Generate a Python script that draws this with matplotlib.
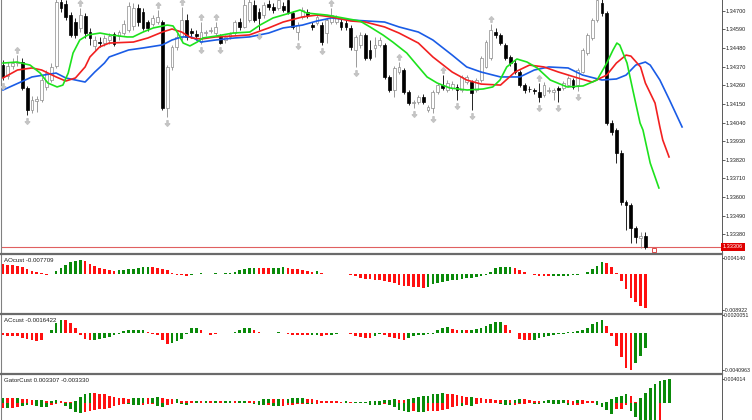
import numpy as np
import matplotlib
matplotlib.use("Agg")
import matplotlib.pyplot as plt
from matplotlib.path import Path
from matplotlib.lines import Line2D
from matplotlib.transforms import blended_transform_factory

plt.rcParams['font.family'] = ['Liberation Sans', 'DejaVu Sans']

# prices are kept as points (1e-5) above BASE
BASE = 1.33
PT = 1e-5

open_pts = [1380,1315,1374,1391,1397,1244,1114,1167,1173,1250,
            1291,1374,1751,1739,1675,1633,1598,1669,1574,1492,
            1515,1509,1527,1562,1551,1568,1586,1610,1716,1692,
            1633,1621,1633,1633,1126,1368,1486,1545,1645,1580,
            1562,1515,1568,1580,1568,1545,1527,1545,1568,1633,
            1604,1645,1734,1692,1675,1739,1722,1716,1728,1763,
            1686,1574,1663,1692,1615,1627,1615,1568,1633,1633,
            1633,1627,1598,1468,1498,1557,1468,1480,1498,1498,
            1309,1232,1338,1350,1220,1155,1161,1191,1114,1126,
            1220,1262,1232,1244,1250,1232,1279,1279,1232,1291,
            1368,1421,1574,1557,1498,1427,1391,1338,1262,1238,
            1232,1220,1203,1226,1220,1244,1244,1262,1291,1262,
            1338,1450,1539,1645,1745,1686,1037,996,860,571,
            553,418,359,371]
high_pts = [1409,1397,1421,1439,1421,1256,1197,1197,1309,1350,
            1391,1793,1787,1763,1692,1657,1716,1686,1598,1551,
            1545,1557,1568,1574,1586,1645,1751,1745,1739,1716,
            1645,1675,1704,1645,1380,1498,1568,1722,1680,1598,
            1586,1633,1586,1604,1633,1562,1557,1574,1645,1657,
            1781,1793,1763,1716,1751,1763,1745,1781,1751,1781,
            1698,1633,1722,1710,1633,1680,1633,1657,1716,1675,
            1651,1645,1615,1557,1574,1568,1527,1545,1545,1509,
            1320,1374,1397,1362,1232,1173,1203,1208,1143,1232,
            1273,1320,1291,1285,1267,1320,1320,1291,1303,1433,
            1527,1621,1598,1568,1509,1439,1409,1350,1273,1256,
            1244,1273,1279,1250,1244,1256,1285,1315,1303,1362,
            1480,1568,1657,1798,1775,1698,1055,1008,878,583,
            565,430,394,394]
low_pts = [1291,1297,1356,1374,1232,1085,1096,1102,1161,1232,
           1279,1362,1692,1645,1545,1539,1574,1539,1498,1468,
           1486,1492,1503,1492,1527,1557,1574,1586,1610,1586,
           1580,1610,1621,1114,1073,1350,1468,1527,1527,1539,
           1527,1503,1551,1568,1557,1503,1509,1533,1557,1586,
           1598,1633,1633,1586,1657,1704,1686,1704,1692,1680,
           1592,1527,1651,1657,1586,1615,1498,1509,1621,1621,
           1586,1586,1468,1368,1480,1409,1409,1427,1486,1297,
           1220,1191,1326,1208,1143,1126,1149,1149,1102,1096,
           1208,1232,1220,1232,1173,1220,1267,1114,1220,1279,
           1362,1409,1539,1498,1409,1374,1326,1250,1214,1220,
           1208,1161,1191,1214,1173,1161,1232,1250,1238,1226,
           1332,1439,1527,1633,1669,1025,966,801,553,406,
           329,329,300,294]
close_pts = [1309,1374,1391,1397,1244,1114,1173,1179,1291,1332,
             1368,1751,1716,1663,1557,1557,1675,1568,1539,1527,
             1509,1539,1551,1503,1574,1621,1728,1716,1633,1598,
             1598,1657,1663,1126,1368,1486,1545,1645,1545,1568,
             1551,1574,1574,1586,1604,1509,1545,1562,1633,1604,
             1734,1751,1645,1657,1734,1722,1704,1763,1704,1692,
             1604,1615,1704,1675,1604,1663,1515,1645,1675,1657,
             1604,1604,1486,1545,1557,1421,1421,1498,1527,1309,
             1232,1362,1368,1220,1155,1161,1191,1161,1132,1220,
             1262,1244,1273,1267,1232,1309,1309,1214,1291,1421,
             1515,1586,1557,1509,1421,1391,1338,1262,1232,1235,
             1226,1191,1262,1232,1232,1232,1273,1303,1250,1350,
             1468,1557,1645,1763,1686,1037,984,860,571,553,
             418,365,371,306]

fractal_up = [3, 16, 32, 37, 41, 44, 68, 82, 91, 101, 111]
fractal_dn = [0, 5, 34, 41, 45, 53, 61, 66, 73, 85, 89, 94, 97, 111, 115, 119]

# alligator lines (bar position, points)
jaw_x = [0, 6, 11, 13, 17, 19, 21, 22, 26, 29, 33, 35, 37, 39, 41, 44, 48, 51, 55, 58,
         62, 65, 68, 72, 79, 82, 86, 89, 93, 96, 99, 103, 107, 110, 113, 117, 120, 124,
         127, 129, 131, 133, 134, 136, 138, 140.6]
jaw_pts = [1232, 1309, 1332, 1303, 1279, 1338, 1391, 1427, 1468, 1480, 1498, 1527, 1545,
           1545, 1515, 1527, 1539, 1545, 1568, 1598, 1615, 1639, 1657, 1645, 1633, 1604,
           1574, 1527, 1438, 1368, 1338, 1309, 1309, 1350, 1368, 1362, 1320, 1291, 1297,
           1320, 1379, 1397, 1379, 1291, 1173, 1014]
teeth_x = [0, 3, 6, 8, 11, 13, 15, 17, 18, 20, 22, 27, 30, 33, 35, 37, 39, 41, 44, 48,
           51, 55, 58, 62, 65, 68, 72, 75, 79, 82, 86, 89, 93, 96, 99, 103, 106, 109, 112,
           115, 119, 122, 125, 127, 129, 130, 132, 133, 135, 136, 136.6, 137.9]
teeth_pts = [1303, 1350, 1362, 1350, 1309, 1285, 1303, 1368, 1427, 1486, 1509, 1515, 1539,
             1574, 1592, 1574, 1539, 1533, 1545, 1551, 1557, 1598, 1633, 1663, 1674, 1663,
             1639, 1633, 1604, 1568, 1509, 1427, 1338, 1291, 1267, 1261, 1338, 1379, 1368,
             1338, 1303, 1279, 1320, 1391, 1438, 1432, 1368, 1273, 1155, 1014, 937, 837]
lips_x = [0, 2.9, 5.6, 7.7, 9.3, 11.2, 12.4, 13.5, 14.5, 15.9, 17.6, 20.1, 22.2, 25.7,
          26.9, 29, 31.1, 34, 35.2, 36.2, 37.3, 38.7, 40.2, 41.4, 44.3, 47.6, 51.1, 53.2,
          55.9, 59.4, 61.5, 62.9, 67.1, 70.4, 73.9, 76, 78.7, 80.7, 83.6, 85.7, 87.8, 89.9,
          92.5, 96.1, 99.4, 101.4, 102.9, 104.3, 106.4, 108.5, 110.6, 113.3, 116.8, 120.1,
          123, 125, 126.3, 127.1, 127.7, 129.2, 130.4, 131.9, 132.5, 134, 135.8]
lips_pts = [1391, 1397, 1379, 1332, 1273, 1250, 1261, 1332, 1450, 1527, 1557, 1568, 1557,
            1545, 1545, 1574, 1598, 1615, 1610, 1568, 1509, 1492, 1515, 1539, 1551, 1568,
            1574, 1615, 1657, 1686, 1704, 1686, 1674, 1657, 1639, 1604, 1556, 1515, 1450,
            1379, 1309, 1273, 1244, 1232, 1238, 1250, 1291, 1368, 1415, 1397, 1362, 1291,
            1250, 1256, 1291, 1391, 1468, 1509, 1497, 1391, 1232, 1037, 996, 801, 654]

# oscillators, in points (1e-5)
ao_pts = [250,238,225,213,188,138,88,50,25,-12,
          12,75,150,225,300,338,350,325,263,200,
          163,125,100,88,100,113,125,138,150,175,
          188,175,163,138,100,25,-12,-25,-38,-12,
          8,20,12,15,20,15,20,38,63,100,
          125,150,168,163,158,157,163,168,170,155,
          133,125,100,83,68,70,33,8,5,10,
          12,15,-12,-50,-88,-113,-125,-133,-143,-158,
          -183,-225,-268,-283,-295,-313,-325,-330,-308,-250,
          -225,-200,-168,-150,-133,-118,-100,-83,-75,-50,
          -25,50,150,175,183,184,150,100,50,-5,
          -25,-45,-50,-53,-50,-45,-38,-30,-23,-12,
          18,58,125,213,300,288,175,33,-168,-375,
          -585,-685,-793,-835]
ao_col = ("rrrrrrrrrr" "gggggggrrr" "rrrrgggggg" "grrrrrrrrg" "ggrggrgggg"
          "gggrrrgggr" "rrrrrgrrrg" "ggrrrrrrrr" "rrrrrrrrgg" "gggggggggg"
          "ggggggrrrr" "rrrrgggggg" "gggggrrrrr" "rrrr")

ac_pts = [-26,-28,-30,-33,-50,-61,-81,-89,-72,-3,
          39,111,150,148,111,56,-17,-61,-72,-72,
          -67,-56,-44,-26,-6,26,33,37,37,33,
          11,-9,-17,-72,-122,-111,-92,-67,-11,56,
          59,37,3,-17,-8,-3,3,6,11,37,
          56,59,33,17,-1,2,6,11,3,-7,
          -19,-26,-26,-26,-25,-19,-30,-26,-19,-9,
          -4,-3,-6,-28,-44,-50,-56,-37,-6,-21,
          -39,-58,-67,-74,-51,-33,-22,-18,-11,-7,
          37,53,63,48,37,38,30,37,48,56,
          74,103,122,123,92,37,-1,-63,-81,-82,
          -74,-56,-44,-30,-19,-11,-6,8,14,22,
          37,61,100,128,144,74,-37,-148,-270,-390,
          -410,-333,-259,-164]
ac_col = ("rrrrrrrrrg" "gggrrrrrrg" "gggggggggg" "rrrrrggggg" "grrrrggggg"
          "ggrrrggggr" "rrrrggrrgg" "ggrrrrrggr" "rrrrgggggg" "gggrrgrggg"
          "ggggrrrrrr" "gggggggggg" "gggggrrrrr" "rggg")

gator_up_pts = [93,93,85,85,76,68,59,59,51,34,
                42,51,42,25,22,30,101,152,169,161,
                152,144,127,110,93,85,76,77,85,90,
                85,93,101,93,76,68,76,42,34,33,
                34,30,34,30,34,30,31,34,30,34,
                37,34,30,42,68,76,74,76,74,76,
                78,85,87,76,68,51,42,34,32,30,
                25,26,22,23,24,25,26,27,34,51,
                59,60,58,51,68,93,110,118,127,152,
                160,161,159,152,135,118,101,105,93,85,
                76,68,59,51,52,50,59,68,66,51,
                42,41,42,43,51,52,53,46,42,56,
                46,34,33,29,8,12,73,96,118,147,
                113,17,85,169,254,316,367,384,401]
gator_up_col = ("grrgrrrggr" "ggrrrggggr" "rrrrrrrggg" "rggrrrgrrr" "grgrgrggrg"
                "grrgggrgrg" "gggrrrrrrr" "rgrggggggg" "ggrrgggggg" "ggrrrrrgrr"
                "rrrrgrggrr" "rrgggggrrg" "rrrggggggg" "rrggggggg")
gator_dn_pts = [93,85,85,68,51,34,34,51,68,76,
                34,17,8,51,101,152,169,152,135,118,
                110,101,85,51,34,17,25,26,34,33,
                25,17,51,68,34,17,8,25,26,8,
                5,6,5,6,7,6,7,6,7,6,
                7,8,17,34,42,34,51,59,51,42,
                34,25,17,18,25,17,8,5,6,8,
                7,5,4,5,6,5,34,35,36,17,
                34,68,118,135,144,135,144,152,135,133,
                130,127,101,68,51,44,42,44,17,8,
                7,5,8,17,34,42,34,25,17,8,
                9,10,6,8,9,17,8,39,37,29,
                17,8,7,39,68,123,181,96,95,39,
                140,237,287,333,355,372,338]
gator_dn_col = ("rgrrggrggg" "rrrggggrrr" "rrrrrrgggr" "rrggrrrggr" "rgrggrgrgr"
                "gggggrggrr" "rrrggrrrgg" "rrrggrgggr" "gggggrggrr" "rrrrrgrgrr"
                "rrggggrrrr" "ggrgggrgrr" "rrrggggrrr" "ggggggr")

price_ticks = [1.34700, 1.34590, 1.34480, 1.34370, 1.34260, 1.34150, 1.34040,
               1.33930, 1.33820, 1.33710, 1.33600, 1.33490, 1.33380]
bid = 1.33306
ao_ticks = [0.004140, -0.008922]
ao_tick_labels = ['0.004140', '-0.008922']
ac_ticks = [0.0020051, -0.0040963]
ac_tick_labels = ['0.0020051', '-0.0040963']
gator_ticks = [0.004014]
gator_tick_labels = ['0.004014']
marker_pos = (134.8, 1.33288)

def prices(pts):
    return BASE + np.array(pts) * PT

o, h, l, c = prices(open_pts), prices(high_pts), prices(low_pts), prices(close_pts)
n = len(c)
idx = np.arange(n)

GREEN = '#0a8a0a'
RED = '#ff1010'
cmap = {'g': GREEN, 'r': RED}

W, H = 752, 420
def rect(left, top, right, bottom):
    return [left / W, 1 - bottom / H, (right - left) / W, (bottom - top) / H]

fig = plt.figure(figsize=(7.52, 4.2), dpi=100)
fig.patch.set_facecolor('white')
ax = fig.add_axes(rect(1.5, -2, 721.5, 252.5))
ax_ao = fig.add_axes(rect(1.5, 255, 721.5, 312.5))
ax_ac = fig.add_axes(rect(1.5, 315, 721.5, 372.5))
ax_g = fig.add_axes(rect(1.5, 375, 721.5, 431))

for a in (ax, ax_ao, ax_ac, ax_g):
    a.set_xlim(-0.31, 148.76)
    a.spines['top'].set_visible(False)
    a.spines['bottom'].set_visible(False)
    a.spines['left'].set_color('#808080')
    a.spines['left'].set_linewidth(0.8)
    a.spines['right'].set_color('#404040')
    a.spines['right'].set_linewidth(0.6)
    a.set_xticks([])
    a.yaxis.tick_right()
    a.tick_params(axis='y', length=2.0, width=0.5, labelsize=4.0, pad=0.8,
                  colors='#202020')
for a in (ax_ao, ax_ac, ax_g):
    a.tick_params(axis='y', length=1.2, labelsize=3.75, pad=0.3)

# main price chart
ax.set_ylim(1.332733, 1.347748)
ax.set_yticks(price_ticks)
ax.set_yticklabels(['%.5f' % p for p in price_ticks])

bull = c >= o
wick_col = np.where(bull, '#8a8a8a', '#000000')
ax.vlines(idx, l, h, colors=wick_col, linewidth=0.6, zorder=2)
body_bottom = np.minimum(o, c)
body_height = np.maximum(np.abs(c - o), 1.2 * PT)
ax.bar(idx, body_height, bottom=body_bottom, width=0.58,
       color=np.where(bull, 'white', 'black'),
       edgecolor=np.where(bull, '#8a8a8a', 'black'), linewidth=0.5, zorder=3)

ax.plot(jaw_x, prices(jaw_pts), color='#1a5ce6', lw=1.2, zorder=4)
ax.plot(teeth_x, prices(teeth_pts), color='#f22020', lw=1.2, zorder=4)
ax.plot(lips_x, prices(lips_pts), color='#1de21d', lw=1.2, zorder=4)

up_arrow = Path([(0, 1), (-0.8, 0.1), (-0.22, 0.1), (-0.22, -1), (0.22, -1),
                 (0.22, 0.1), (0.8, 0.1), (0, 1)], closed=True)
dn_arrow = Path([(0, -1), (-0.8, -0.1), (-0.22, -0.1), (-0.22, 1), (0.22, 1),
                 (0.22, -0.1), (0.8, -0.1), (0, -1)], closed=True)
ax.plot(fractal_up, h[fractal_up] + 0.0003, ls='none', marker=up_arrow, ms=4.0,
        color='#c4c4c4', zorder=5)
ax.plot(fractal_dn, l[fractal_dn] - 0.00035, ls='none', marker=dn_arrow, ms=4.0,
        color='#c4c4c4', zorder=5)

ax.axhline(bid, color='#e06060', lw=0.8, zorder=1)
ax.plot(*marker_pos, marker='s', mfc='none', mec='#e04848', ms=3.2, mew=0.7,
        zorder=5, clip_on=False)
trans = blended_transform_factory(ax.transAxes, ax.transData)
ax.text(1.002, bid, '%.5f' % bid, transform=trans, color='white', fontsize=4.0,
        va='center', ha='left',
        bbox=dict(facecolor='#e00000', edgecolor='none', pad=1.4))

# AO
ax_ao.set_ylim(-0.009539, 0.004819)
ax_ao.bar(idx, np.array(ao_pts) * PT, width=0.55, color=[cmap[k] for k in ao_col],
          linewidth=0)
ax_ao.set_yticks(ao_ticks)
ax_ao.set_yticklabels(ao_tick_labels)

# AC
ax_ac.set_ylim(-0.004369, 0.002007)
ax_ac.bar(idx, np.array(ac_pts) * PT, width=0.55, color=[cmap[k] for k in ac_col],
          linewidth=0)
ax_ac.set_yticks(ac_ticks)
ax_ac.set_yticklabels(ac_tick_labels)

# Gator
ax_g.set_ylim(-0.004743, 0.004743)
ax_g.bar(np.arange(len(gator_up_pts)), np.array(gator_up_pts) * PT, width=0.55,
         color=[cmap[k] for k in gator_up_col], linewidth=0)
ax_g.bar(np.arange(len(gator_dn_pts)), -np.array(gator_dn_pts) * PT, width=0.55,
         color=[cmap[k] for k in gator_dn_col], linewidth=0)
ax_g.set_yticks(gator_ticks)
ax_g.set_yticklabels(gator_tick_labels)

# window titles
fig.text(4 / W, 1 - 261 / H, 'AOcust -0.007709', fontsize=4.4, va='center', color='#202020')
fig.text(4 / W, 1 - 320 / H, 'ACcust -0.0016422', fontsize=4.4, va='center', color='#202020')
fig.text(4 / W, 1 - 380 / H, 'GatorCust 0.003307 -0.003330', fontsize=4.4, va='center',
         color='#202020')

# window separators
for y in (253.8, 313.8, 373.8):
    fig.add_artist(Line2D([0, 722 / W], [1 - y / H, 1 - y / H], transform=fig.transFigure,
                          color='#6a6a6a', lw=1.6))

fig.savefig('out.png', dpi=100)
